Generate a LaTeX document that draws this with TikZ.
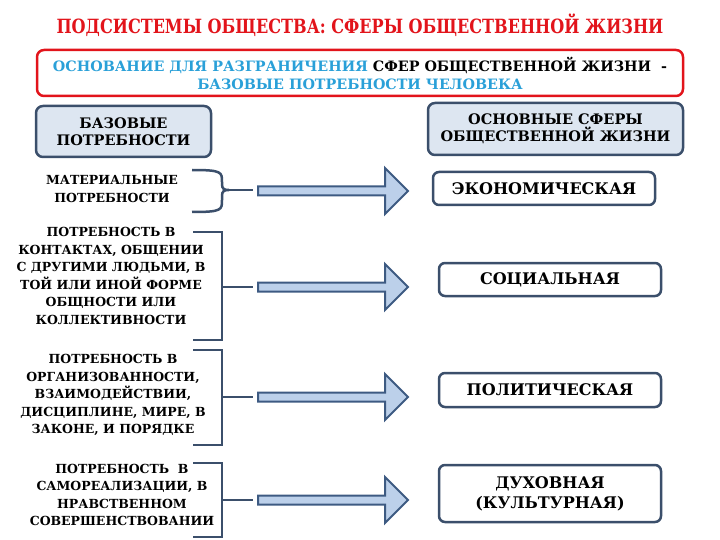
\documentclass[tikz,border=0pt]{standalone}
\usepackage{fontspec}
\setmainfont{DejaVu Serif}
\newfontfamily\narrowfont{DejaVu Serif}[FakeStretch=0.82]
\usepackage{tikz}

\definecolor{titlered}{RGB}{226,20,27}
\definecolor{textblue}{RGB}{42,160,216}
\definecolor{frame}{RGB}{59,79,107}
\definecolor{headfill}{RGB}{221,230,241}
\definecolor{arrowfill}{RGB}{188,208,234}
\definecolor{arrowline}{RGB}{61,90,130}

\begin{document}
\begin{tikzpicture}[x=1pt,y=-1pt,
  head/.style={draw=frame, line width=2.5pt, fill=headfill, rounded corners=7pt, align=center, font=\fontsize{14.5}{17}\selectfont\bfseries},
  sphere/.style={draw=frame, line width=2.5pt, fill=white, rounded corners=6pt, align=center, minimum width=222pt, font=\fontsize{16}{20}\selectfont\bfseries},
  need/.style={align=center, font=\fontsize{12.5}{17.5}\selectfont\bfseries},
  bracket/.style={draw=frame, line width=2.5pt},
  bigarrow/.style={draw=arrowline, line width=2pt, fill=arrowfill}]
\useasboundingbox (0,0) rectangle (720,540);
  % Title
  \node[text=titlered, font=\fontsize{19.6}{22}\selectfont\narrowfont\bfseries] (title) at (360,25) {ПОДСИСТЕМЫ ОБЩЕСТВА: СФЕРЫ ОБЩЕСТВЕННОЙ ЖИЗНИ};
  \node[draw=titlered, line width=2.5pt, rounded corners=7pt, minimum width=646pt, minimum height=46pt, align=center, font=\fontsize{14.3}{18}\selectfont\bfseries] (basis) at (360,73)
    {\textcolor{textblue}{ОСНОВАНИЕ ДЛЯ РАЗГРАНИЧЕНИЯ} СФЕР ОБЩЕСТВЕННОЙ ЖИЗНИ\ \ -\\
     \textcolor{textblue}{БАЗОВЫЕ ПОТРЕБНОСТИ ЧЕЛОВЕКА}};
  % Column heads
  \node[head, minimum width=175pt, minimum height=51pt] (needs) at (123.5,131.5) {БАЗОВЫЕ\\ПОТРЕБНОСТИ};
  \node[head, minimum width=255pt, minimum height=52pt] (spheres) at (555.5,129) {ОСНОВНЫЕ СФЕРЫ\\ОБЩЕСТВЕННОЙ ЖИЗНИ};
  % Needs
  \node[need] (need1) at (112,189) {МАТЕРИАЛЬНЫЕ\\ПОТРЕБНОСТИ};
  \node[need] (need2) at (111,276) {ПОТРЕБНОСТЬ В\\КОНТАКТАХ, ОБЩЕНИИ\\С ДРУГИМИ ЛЮДЬМИ, В\\ТОЙ ИЛИ ИНОЙ ФОРМЕ\\ОБЩНОСТИ ИЛИ\\КОЛЛЕКТИВНОСТИ};
  \node[need] (need3) at (113,395) {ПОТРЕБНОСТЬ В\\ОРГАНИЗОВАННОСТИ,\\ВЗАИМОДЕЙСТВИИ,\\ДИСЦИПЛИНЕ, МИРЕ, В\\ЗАКОНЕ, И ПОРЯДКЕ};
  \node[need] (need4) at (122,495) {ПОТРЕБНОСТЬ\ \ В\\САМОРЕАЛИЗАЦИИ, В\\НРАВСТВЕННОМ\\СОВЕРШЕНСТВОВАНИИ};
  % Spheres
  \node[sphere, minimum height=33pt] (econ) at (544,188.5) {ЭКОНОМИЧЕСКАЯ};
  \node[sphere, minimum height=33pt] (social) at (550,279.5) {СОЦИАЛЬНАЯ};
  \node[sphere, minimum height=34pt] (polit) at (550,390) {ПОЛИТИЧЕСКАЯ};
  \node[sphere, minimum height=57pt] (spirit) at (550,493.5) {ДУХОВНАЯ\\(КУЛЬТУРНАЯ)};
  % Braces
  \coordinate (b1) at (229,190);
  \coordinate (b2) at (222,287);
  \coordinate (b3) at (222,397);
  \coordinate (b4) at (222,500);
  \draw[bracket] (192,170) .. controls (222,170) and (222,172) .. (222,182) -- (222,184)
    .. controls (222,189) and (224,190) .. (b1) .. controls (224,190) and (222,191) .. (222,196)
    -- (222,200) .. controls (222,210) and (222,212) .. (192,212);
  \draw[bracket] (193,232) -- (222,232) -- (222,340) -- (193,340);
  \draw[bracket] (193,350) -- (222,350) -- (222,445) -- (193,445);
  \draw[bracket] (193,463) -- (222,463) -- (222,537) -- (193,537);
  \draw[bracket] (b1) -- (253,190);
  \draw[bracket] (b2) -- (253,287);
  \draw[bracket] (b3) -- (253,397);
  \draw[bracket] (b4) -- (253,500);
  % Arrows
  \foreach \y [count=\i] in {191,287,397,500} {
    \coordinate (a\i) at (258,\y);
    \draw[bigarrow, shift={(a\i)}] (0,-4.5) -- (127,-4.5) -- (127,-23) -- (150,0) -- (127,23) -- (127,4.5) -- (0,4.5) -- cycle;
  }
\end{tikzpicture}
\end{document}
